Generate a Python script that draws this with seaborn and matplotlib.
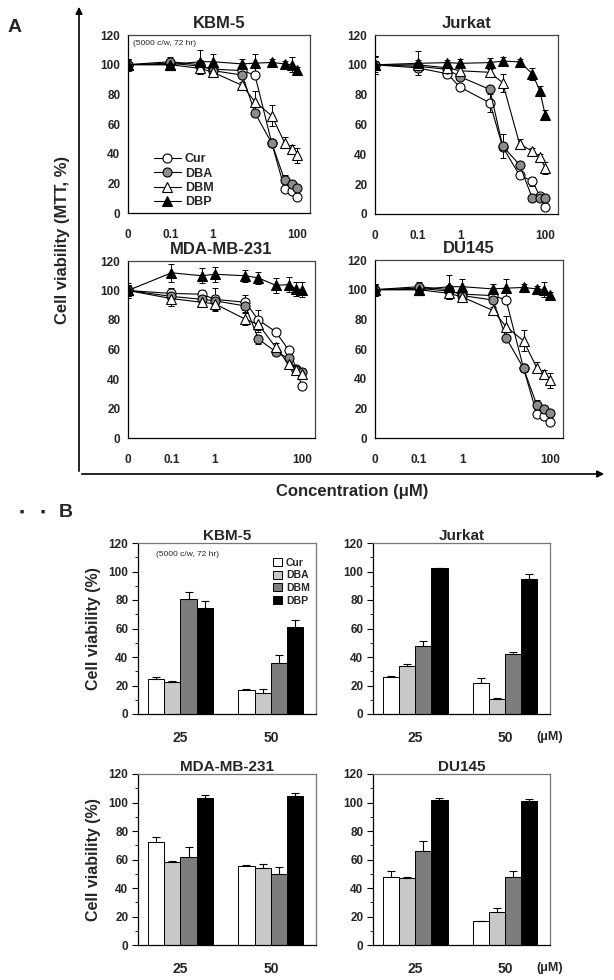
import numpy as np
import pandas as pd
import matplotlib
matplotlib.use("Agg")
import matplotlib.pyplot as plt
from matplotlib.patches import FancyArrowPatch
import seaborn as sns

sns.set_theme(style="white")
plt.rcParams['font.family'] = ['Liberation Sans', 'DejaVu Sans']
plt.rcParams['font.weight'] = 'bold'

# ---------------- data ----------------
conc = [0, 0.1, 0.5, 1, 5, 10, 25, 50, 75, 100]
drugs = ['Cur', 'DBA', 'DBM', 'DBP']

kbm_cur = [100, 101, 99, 97, 96, 93, 47, 16.5, 15, 10.5]
kbm_dba = [100, 102, 100, 96, 93, 67.5, 47, 22.5, 19.5, 17]
kbm_dbm = [100, 100, 97.5, 95, 86, 75, 65.5, 47.5, 43, 39]
kbm_dbp = [100, 100, 102, 102, 100.5, 101, 101.5, 100.5, 100, 96.5]
kbm_err = [[4, 2, 2, 2, 2, 2, 2, 2, 2, 2],
           [4, 3, 3, 2, 2, 2, 2, 3, 2, 2],
           [3, 3, 4, 2, 2, 7, 7, 4, 3, 5],
           [4, 3, 8, 5, 3, 6, 2, 2, 5, 2]]

jur_cur = [100, 98, 94, 85, 74.5, 45, 26, 22, 12, 4.5]
jur_dba = [100, 99, 97, 92, 83.5, 45.5, 33, 10.5, 10.5, 10.5]
jur_dbm = [100, 100, 98, 96, 95, 88, 47, 42, 38, 31]
jur_dbp = [100, 101, 101.5, 101, 101.5, 102.5, 102, 94, 82.5, 66.5]
jur_err = [[6, 3, 2, 2, 6, 2, 2, 3, 2, 2],
           [6, 3, 2, 2, 2, 8, 2, 2, 2, 2],
           [5, 3, 2, 2, 2, 6, 3, 2, 2, 4],
           [6, 8, 2, 3, 3, 3, 2, 4, 3, 3]]

mda_cur = [100, 98, 97.5, 94, 92, 80, 72, 59.5, 47, 35]
mda_dba = [100, 96, 94, 93, 89.5, 67, 58.5, 54, 46, 44.5]
mda_dbm = [100, 94.5, 92, 91, 80.5, 77, 61.5, 50, 46, 43.5]
mda_dbp = [100, 112, 110, 111, 110, 108.5, 103.5, 104, 101, 100.5]
mda_err = [[5, 4, 3, 8, 5, 7, 2, 2, 2, 2],
           [4, 3, 3, 4, 4, 3, 2, 3, 3, 3],
           [4, 5, 3, 4, 4, 5, 3, 3, 3, 3],
           [4, 6, 5, 5, 4, 4, 5, 5, 5, 5]]

du_cur = [100, 101, 99, 97, 96, 93, 47, 16.5, 15, 10.5]
du_dba = [100, 102, 100, 96, 93, 67.5, 47, 22.5, 19.5, 17]
du_dbm = [100, 100, 97.5, 95, 86, 75, 65.5, 47.5, 43, 39]
du_dbp = [100, 100, 102, 102, 100.5, 101, 101.5, 100.5, 100, 96.5]
du_err = kbm_err

bar_conc = ['25', '50']
kbm_bar = [[24.5, 16.5], [22.5, 15], [80.5, 35.5], [74.5, 61]]
kbm_bar_err = [[1.5, 1], [1, 2.5], [5, 6], [5, 5]]
jur_bar = [[26, 22], [33.5, 10.7], [47.5, 42.3], [102.2, 94.5]]
jur_bar_err = [[0.5, 3], [1.5, 0.3], [3.5, 1.5], [0.5, 4]]
mda_bar = [[72, 55.5], [58.2, 54], [62, 50], [103.5, 104.5]]
mda_bar_err = [[4, 0.5], [1, 3], [6.5, 4.5], [2, 2]]
du_bar = [[48, 16.5], [47, 23], [66, 47.5], [102, 101]]
du_bar_err = [[4, 0.5], [1, 3], [7, 4.5], [1.5, 1.5]]

# ---------------- figure ----------------
W, H = 614, 980
fig = plt.figure(figsize=(W / 100, H / 100), dpi=100)
fig.patch.set_facecolor('white')


def ax_px(l, t, r, b):
    return fig.add_axes([l / W, 1 - b / H, (r - l) / W, (b - t) / H])


line_styles = {
    'Cur': dict(marker='o', markerfacecolor='white', ms=6.5),
    'DBA': dict(marker='o', markerfacecolor='#8c8c8c', ms=6.5),
    'DBM': dict(marker='^', markerfacecolor='white', ms=6.5),
    'DBP': dict(marker='^', markerfacecolor='black', ms=6.5),
}


def style_frame(ax, top_col='#444444'):
    for s in ['left', 'bottom']:
        ax.spines[s].set_color('black')
        ax.spines[s].set_linewidth(0.9)
    for s in ['top', 'right']:
        ax.spines[s].set_color(top_col)
        ax.spines[s].set_linewidth(0.9)
        ax.spines[s].set_visible(True)


def line_panel(box, title, series, errs, legend=False, note=False):
    ax = ax_px(*box)
    xpos = [c if c > 0 else 0.01 for c in conc]
    for name, vals, e in zip(drugs, series, errs):
        ax.errorbar(xpos, vals, yerr=e, fmt='none', ecolor='black',
                    elinewidth=0.7, capsize=2.5, capthick=0.7, zorder=2)
    for name, vals in zip(drugs, series):
        df = pd.DataFrame({'x': xpos, 'v': vals})
        sns.lineplot(data=df, x='x', y='v', ax=ax, color='black', lw=0.8,
                     markeredgecolor='black', markeredgewidth=0.8,
                     label=name, legend=False, zorder=3, **line_styles[name])
    ax.set_xscale('log')
    ax.set_xlim(0.01, 200)
    ax.set_ylim(0, 120)
    ax.set_xticks([0.01, 0.1, 1, 100])
    ax.set_xticklabels(['0', '0.1', '1', '100'])
    ax.xaxis.set_minor_locator(matplotlib.ticker.NullLocator())
    ax.get_xaxis().get_major_ticks()[1].tick1line.set_visible(False)
    ax.set_yticks(range(0, 121, 20))
    ax.tick_params(axis='both', direction='inout', length=5, width=0.8,
                   labelsize=8.5, pad=3, color='black')
    ax.tick_params(axis='x', pad=9)
    for lab in ax.get_xticklabels() + ax.get_yticklabels():
        lab.set_fontweight('bold')
    ax.set_xlabel('')
    ax.set_ylabel('')
    ax.set_title(title, fontsize=12, fontweight='bold', pad=5)
    style_frame(ax)
    if note:
        ax.text(0.03, 0.955, '(5000 c/w, 72 hr)', transform=ax.transAxes,
                fontsize=6, fontweight='normal', va='center', ha='left')
    if legend:
        handles = ax.get_lines()
        hs = [h for h in handles if h.get_label() in drugs]
        ax.legend(hs, [h.get_label() for h in hs], loc='lower left',
                  bbox_to_anchor=(0.1, -0.015), frameon=False,
                  handlelength=2.2, handletextpad=0.3, labelspacing=0.18,
                  borderpad=0.1, prop={'weight': 'bold', 'size': 9})
    return ax


line_panel((128, 35, 310, 213), 'KBM-5', [kbm_cur, kbm_dba, kbm_dbm, kbm_dbp],
           kbm_err, legend=True, note=True)
line_panel((375, 35, 558, 214), 'Jurkat', [jur_cur, jur_dba, jur_dbm, jur_dbp], jur_err)
line_panel((128, 261, 315, 438), 'MDA-MB-231', [mda_cur, mda_dba, mda_dbm, mda_dbp], mda_err)
line_panel((375, 260, 563, 438), 'DU145', [du_cur, du_dba, du_dbm, du_dbp], du_err)

# big L-shaped axis arrows for panel A
fig.add_artist(FancyArrowPatch((79 / W, 1 - 474 / H), (79 / W, 1 - 4 / H),
                               transform=fig.transFigure, arrowstyle='-|>',
                               mutation_scale=10, lw=1.2, color='black'))
fig.add_artist(FancyArrowPatch((79 / W, 1 - 474 / H), (607 / W, 1 - 474 / H),
                               transform=fig.transFigure, arrowstyle='-|>',
                               mutation_scale=10, lw=1.2, color='black'))
fig.text(62 / W, 1 - 240 / H, 'Cell viability (MTT, %)', rotation=90,
         ha='center', va='center', fontsize=12, fontweight='bold')
fig.text(352 / W, 1 - 491 / H, 'Concentration (\u03bcM)', ha='center',
         va='center', fontsize=12, fontweight='bold')
fig.text(15 / W, 1 - 27 / H, 'A', ha='center', va='center', fontsize=14,
         fontweight='bold')
fig.text(66 / W, 1 - 512 / H, 'B', ha='center', va='center', fontsize=14,
         fontweight='bold')
fig.text(22 / W, 1 - 512 / H, '\u25a0', ha='center', va='center', fontsize=5)
fig.text(43 / W, 1 - 512 / H, '\u25a0', ha='center', va='center', fontsize=5)

bar_colors = ['white', '#c8c8c8', '#7d7d7d', 'black']


def bar_panel(box, title, vals, errs, ylabel=False, unit=False, legend=False, note=False):
    ax = ax_px(*box)
    rows = []
    for d, v in zip(drugs, vals):
        for c, y in zip(bar_conc, v):
            rows.append({'conc': c, 'drug': d, 'v': y})
    df = pd.DataFrame(rows)
    sns.barplot(data=df, x='conc', y='v', hue='drug', hue_order=drugs,
                order=bar_conc, palette=bar_colors, edgecolor='black',
                linewidth=0.7, width=0.72, errorbar=None, ax=ax, legend=legend,
                saturation=1)
    for cont, e in zip(ax.containers, errs):
        xs = [b.get_x() + b.get_width() / 2 for b in cont]
        ys = [b.get_height() for b in cont]
        ax.errorbar(xs, ys, yerr=[np.zeros(len(e)), e], fmt='none',
                    ecolor='black', elinewidth=0.8, capsize=2.8, capthick=0.8)
    ax.set_xlim(-0.47, 1.5)
    ax.set_ylim(0, 120)
    ax.set_yticks(range(0, 121, 20))
    ax.set_yticks(range(10, 120, 20), minor=True)
    ax.set_xticks([0.52], minor=True)
    ax.tick_params(axis='x', which='major', length=0, labelsize=10, pad=12)
    ax.tick_params(axis='x', which='minor', length=4, width=0.8, direction='out',
                   color='black')
    ax.tick_params(axis='y', which='major', length=4, width=0.8, direction='out',
                   labelsize=8.5, pad=3, color='black', left=True)
    ax.tick_params(axis='y', which='minor', length=2.5, width=0.6, direction='out',
                   color='black', left=True)
    for lab in ax.get_xticklabels() + ax.get_yticklabels():
        lab.set_fontweight('bold')
    ax.set_xlabel('')
    ax.set_ylabel('Cell viability (%)' if ylabel else '', fontsize=11.5,
                  fontweight='bold', labelpad=5)
    ax.set_title(title, fontsize=11, fontweight='bold', pad=2)
    style_frame(ax, top_col='#777777')
    if unit:
        ax.text(1.0, -0.132, '(\u03bcM)', transform=ax.transAxes, ha='center',
                va='center', fontsize=9, fontweight='bold')
    if note:
        ax.text(0.1, 0.93, '(5000 c/w, 72 hr)', transform=ax.transAxes,
                fontsize=6, fontweight='normal', va='center', ha='left')
    if legend:
        ax.legend(loc='upper right', bbox_to_anchor=(1.0, 0.95), frameon=False,
                  handlelength=0.8, handleheight=0.8, handletextpad=0.4,
                  labelspacing=0.25, borderpad=0.1,
                  prop={'weight': 'bold', 'size': 7.5})
    return ax


bar_panel((138, 543, 316, 714), 'KBM-5', kbm_bar, kbm_bar_err, ylabel=True,
          legend=True, note=True)
bar_panel((373, 543, 550, 714), 'Jurkat', jur_bar, jur_bar_err, unit=True)
bar_panel((138, 774, 316, 945), 'MDA-MB-231', mda_bar, mda_bar_err, ylabel=True)
bar_panel((373, 774, 550, 945), 'DU145', du_bar, du_bar_err, unit=True)

fig.savefig('out.png', dpi=100, facecolor='white')
